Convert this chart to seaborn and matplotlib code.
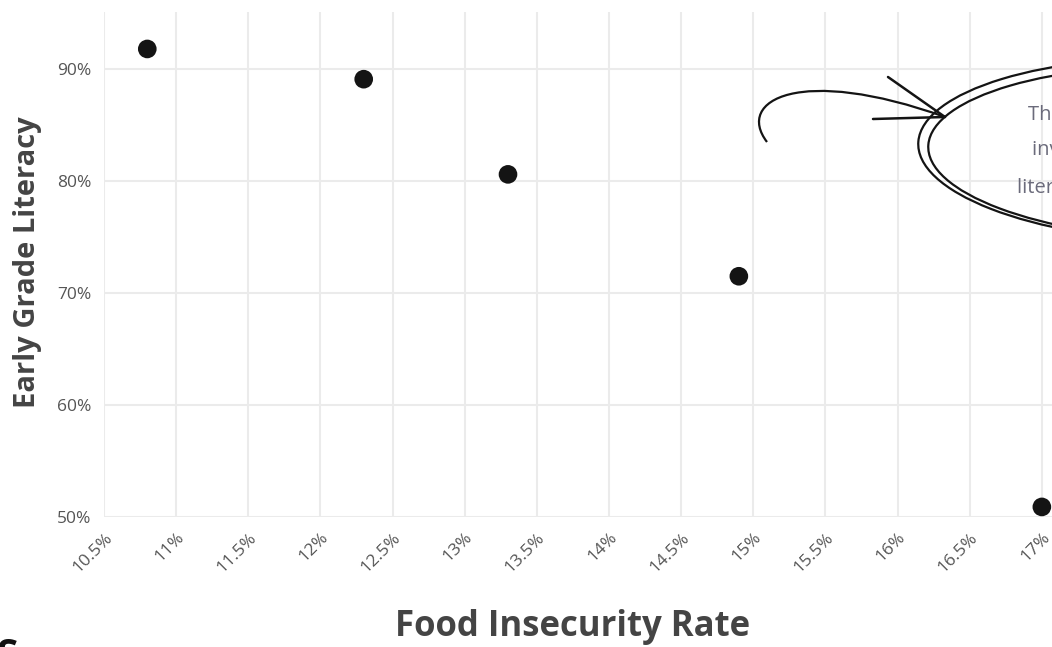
import numpy as np
import pandas as pd
import matplotlib
matplotlib.use("Agg")
import matplotlib.pyplot as plt
import seaborn as sns
from matplotlib.patches import Ellipse
from matplotlib.path import Path
from matplotlib.patches import PathPatch

# data
food_insecurity = [10.8, 12.3, 13.3, 14.9, 17.0]
literacy = [91.8, 89.1, 80.6, 71.5, 50.9]
x_ticks = [10.5, 11, 11.5, 12, 12.5, 13, 13.5, 14, 14.5, 15, 15.5, 16, 16.5, 17]
x_tick_labels = ["10.5%", "11%", "11.5%", "12%", "12.5%", "13%", "13.5%", "14%",
                 "14.5%", "15%", "15.5%", "16%", "16.5%", "17%"]
y_ticks = [50, 60, 70, 80, 90]
y_tick_labels = ["50%", "60%", "70%", "80%", "90%"]
note_lines = ["There is a strong", "inverse link with", "literacy rates"]

df = pd.DataFrame({"Food Insecurity Rate": food_insecurity,
                   "Early Grade Literacy": literacy})

sns.set_theme(style="white")
plt.rcParams["font.family"] = ["Open Sans", "DejaVu Sans"]

W, H = 1052, 647
fig = plt.figure(figsize=(W / 100, H / 100), dpi=100)
# axes runs past the right edge, the reference is cropped there
ax_left, ax_right, ax_top, ax_bottom = 104, 1114, 12, 517
ax = fig.add_axes([ax_left / W, 1 - ax_bottom / H,
                   (ax_right - ax_left) / W, (ax_bottom - ax_top) / H])

sns.scatterplot(data=df, x="Food Insecurity Rate", y="Early Grade Literacy",
                s=180, color="#141414", edgecolor="none", ax=ax, zorder=3,
                clip_on=False)

ax.set_xlim(10.5, 17.5)
ax.set_ylim(50, 95.1)
ax.set_xticks(x_ticks)
ax.set_xticklabels(x_tick_labels, rotation=45, ha="right", va="top",
                   rotation_mode="anchor")
ax.set_yticks(y_ticks)
ax.set_yticklabels(y_tick_labels)
ax.tick_params(axis="both", length=6, width=1.5, color="#ebebeb",
               labelsize=12.5, labelcolor="#555555", pad=3)
ax.grid(True, color="#ebebeb", linewidth=1.5)
ax.set_axisbelow(True)
for sp in ax.spines.values():
    sp.set_visible(False)

ax.set_xlabel("")
ax.set_ylabel("")
fig.text(28 / W, 1 - 262 / H, "Early Grade Literacy", rotation=90,
         ha="center", va="center", fontsize=21, fontweight="bold",
         color="#444444")
fig.text(573 / W, 1 - 627 / H, "Food Insecurity Rate", ha="center",
         va="center", fontsize=25, fontweight="bold", color="#444444")
fig.text(-4 / W, 1 - 657 / H, "S", ha="left", va="center", fontsize=28,
         fontweight="bold", color="#111111")

# hand drawn callout
def px(x, y):
    return (x / W, 1 - y / H)

for cx, cy, a, b in [(1185, 150, 267, 92), (1190, 153, 262, 87)]:
    fig.patches.append(Ellipse(px(cx, cy), 2 * a / W, 2 * b / H, angle=-3,
                               fill=False, edgecolor="#141414", linewidth=1.6,
                               transform=fig.transFigure))

curve = Path([px(767, 142), px(735, 100), px(800, 65), px(945, 117)],
             [Path.MOVETO, Path.CURVE4, Path.CURVE4, Path.CURVE4])
fig.patches.append(PathPatch(curve, fill=False, edgecolor="#141414",
                             linewidth=1.6, transform=fig.transFigure))
for x0, y0 in [(888, 77), (873, 119)]:
    fig.lines.append(plt.Line2D([x0 / W, 945 / W], [1 - y0 / H, 1 - 117 / H],
                                color="#141414", linewidth=1.8,
                                transform=fig.transFigure))

for (tx, ty), line in zip([(1028, 115), (1032, 150), (1017, 188)], note_lines):
    fig.text(tx / W, 1 - ty / H, line, ha="left", va="center", fontsize=14.5,
             color="#6b6b7b")

fig.savefig("out.png", dpi=100)
